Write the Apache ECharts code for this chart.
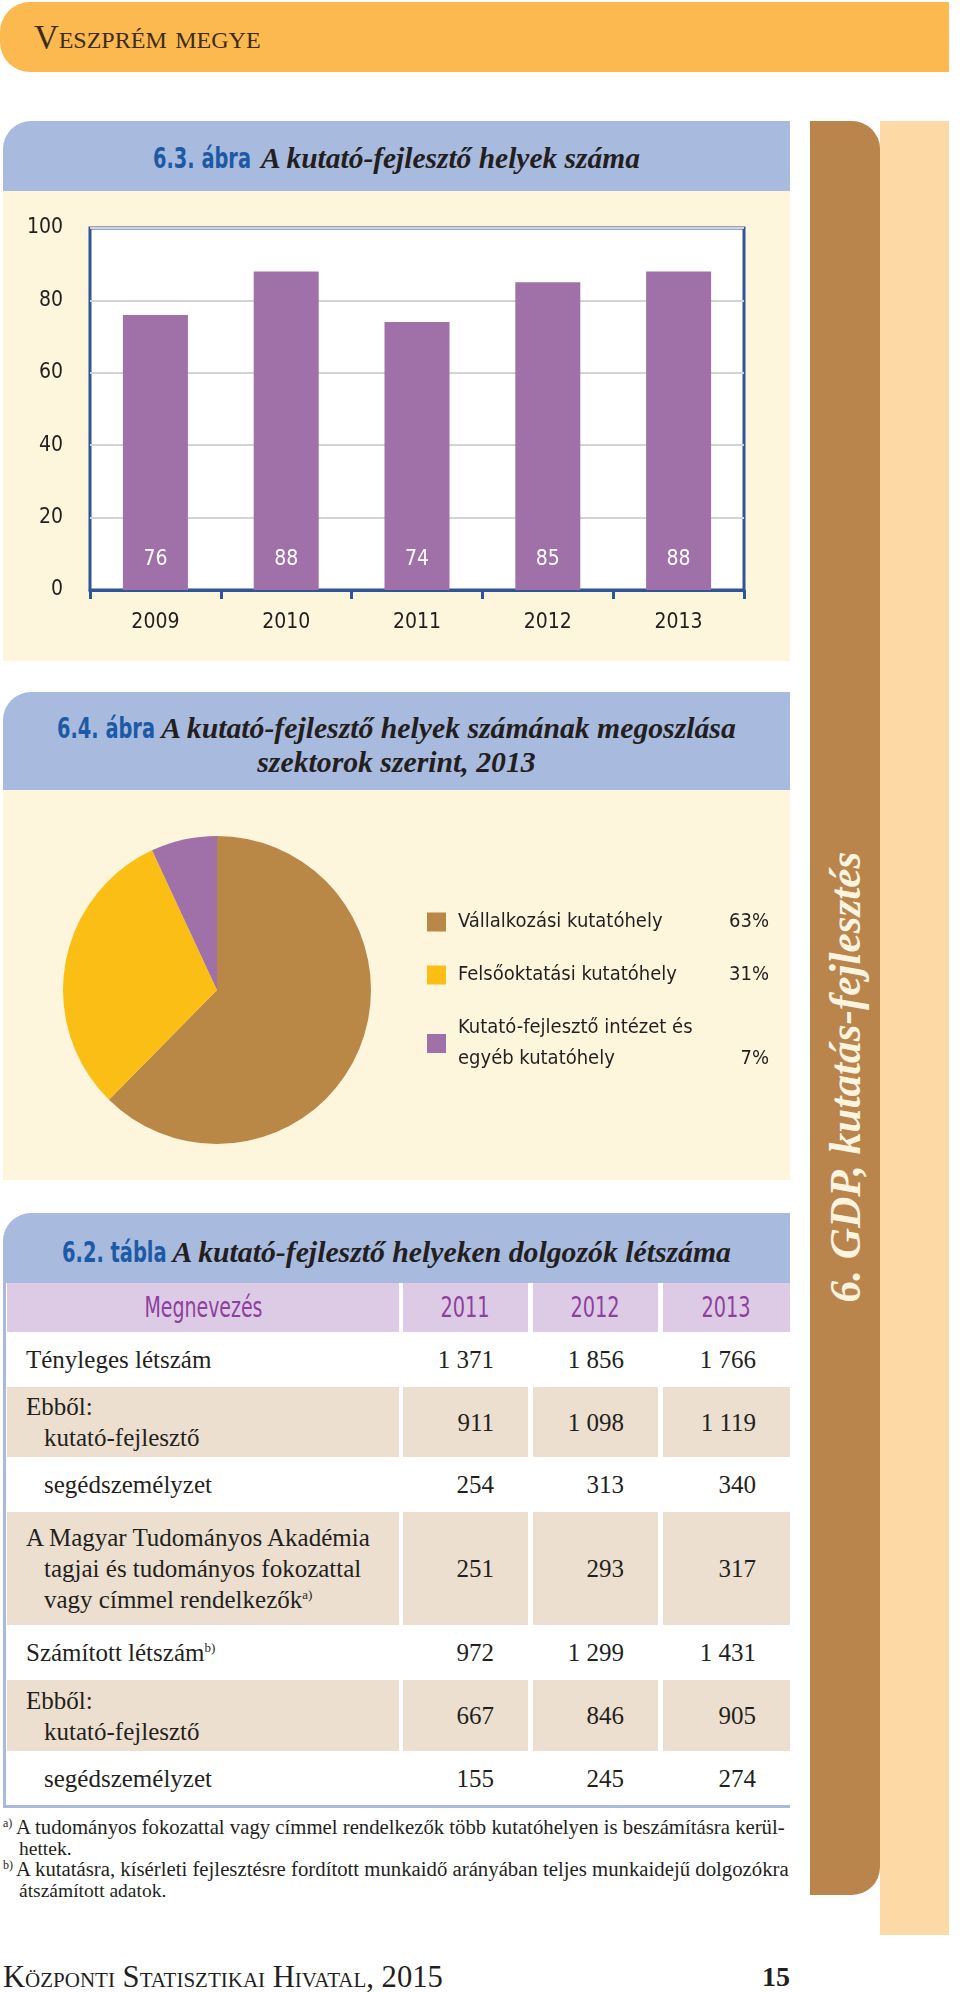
<!DOCTYPE html>
<html><head><meta charset="utf-8">
<script src="https://cdn.jsdelivr.net/npm/echarts@6/dist/echarts.min.js"></script>
<style>
html,body{margin:0;padding:0;background:#fff;}
#page{position:relative;width:960px;height:1992px;overflow:hidden;}
.abs{position:absolute;}
.serif{font-family:'Liberation Serif','DejaVu Serif',serif;}
.nw{white-space:nowrap;display:inline-block;}
.lab{color:#1c5aa6;font-weight:bold;font-family:'DejaVu Sans Condensed','DejaVu Sans',sans-serif;white-space:nowrap;display:inline-block;transform-origin:0 50%;}
.tt{font-family:'Liberation Serif','DejaVu Serif',serif;font-style:italic;font-weight:bold;color:#231f20;}
.titleLine{position:absolute;left:3px;width:787px;text-align:center;height:40px;line-height:40px;z-index:2;white-space:nowrap;}
#chart{position:absolute;left:0;top:0;width:960px;height:1992px;z-index:5;pointer-events:none;}
.cell{position:absolute;box-sizing:border-box;}
.txt{position:absolute;color:#231f20;font-size:25px;line-height:31px;white-space:nowrap;}
.hd{position:absolute;top:1283px;height:49px;line-height:49px;text-align:center;z-index:2;color:#8e3f9f;font-family:'DejaVu Sans Condensed','DejaVu Sans',sans-serif;font-size:28px;}
.hd span{display:inline-block;white-space:nowrap;transform-origin:50% 50%;}
</style></head>
<body><div id="page">
<!-- header -->
<div class="abs" style="left:0;top:2px;width:949px;height:70px;background:#fbb950;border-radius:30px 0 0 30px;"></div>
<div class="abs serif" style="left:34px;top:17px;height:40px;line-height:40px;color:#3b2c1e;font-variant:small-caps;font-size:29px;z-index:2;"><span id="hdrTxt" class="nw">Veszprém megye</span></div>
<!-- sidebar -->
<div class="abs" style="left:880px;top:121px;width:69px;height:1814px;background:#fdd9a5;"></div>
<div class="abs" style="left:810px;top:121px;width:70px;height:1774px;background:#b9854c;border-radius:0 28px 28px 0;"></div>
<div class="abs" style="left:845px;top:1077px;width:0;height:0;z-index:2;">
  <div id="sideTxt" class="tt" style="position:absolute;white-space:nowrap;color:#fdf4e0;font-size:42px;line-height:50px;transform:translate(-50%,-50%) rotate(-90deg);left:0;top:0;">6. GDP, kutatás-fejlesztés</div>
</div>
<!-- panel 1 -->
<div class="abs" style="left:3px;top:121px;width:787px;height:70px;background:#a9badf;border-radius:28px 0 0 0;"></div>
<div class="abs" style="left:3px;top:191px;width:787px;height:470px;background:#fdf5dc;"></div>
<div class="titleLine" style="top:138px;font-size:29px;"><span id="l1" class="lab">6.3. ábra</span><span style="display:inline-block;width:10px;"></span><span id="s1" class="tt nw">A kutató-fejlesztő helyek száma</span></div>
<!-- panel 2 -->
<div class="abs" style="left:3px;top:692px;width:787px;height:98px;background:#a9badf;border-radius:28px 0 0 0;"></div>
<div class="abs" style="left:3px;top:790px;width:787px;height:390px;background:#fdf5dc;"></div>
<div class="titleLine" style="top:708px;font-size:29px;"><span id="l2" class="lab">6.4. ábra</span><span style="display:inline-block;width:6px;"></span><span id="s2" class="tt nw">A kutató-fejlesztő helyek számának megoszlása</span></div>
<div class="titleLine" style="top:742px;font-size:29px;"><span id="s2b" class="nw tt">szektorok szerint, 2013</span></div>
<!-- panel 3 -->
<div class="abs" style="left:3px;top:1213px;width:787px;height:70px;background:#a9badf;border-radius:28px 0 0 0;"></div>
<div class="titleLine" style="top:1232px;font-size:29px;"><span id="l3" class="lab">6.2. tábla</span><span style="display:inline-block;width:6px;"></span><span id="s3" class="tt nw">A kutató-fejlesztő helyeken dolgozók létszáma</span></div>
<div id="table"></div>
<div class="abs" style="left:3px;top:1283px;width:3px;height:525px;background:#a9badf;"></div>
<div class="abs" style="left:3px;top:1805px;width:787px;height:3px;background:#a9badf;"></div>
<!-- footnotes -->
<div class="abs serif" style="left:3px;top:1817px;width:800px;color:#231f20;font-size:19.5px;line-height:20.5px;z-index:2;">
  <div style="position:relative;padding-left:13px;"><span style="position:absolute;left:0;top:-4px;font-size:12px;">a)</span><span id="fn1" class="nw">A tudományos fokozattal vagy címmel rendelkezők több kutatóhelyen is beszámításra kerül-</span><br><span style="padding-left:3px;">hettek.</span></div>
  <div style="position:relative;padding-left:13px;"><span style="position:absolute;left:0;top:-4px;font-size:12px;">b)</span><span id="fn2" class="nw">A kutatásra, kísérleti fejlesztésre fordított munkaidő arányában teljes munkaidejű dolgozókra</span><br><span style="padding-left:3px;">átszámított adatok.</span></div>
</div>
<!-- footer -->
<div class="abs serif" style="left:3px;top:1960px;height:34px;line-height:34px;color:#231f20;font-size:27px;font-variant:small-caps;"><span id="foot" class="nw">Központi Statisztikai Hivatal, 2015</span></div>
<div class="abs serif" style="left:690px;width:100px;text-align:right;top:1960px;height:34px;line-height:34px;color:#231f20;font-size:28px;font-weight:bold;">15</div>
<div id="chart"></div>
</div>
<script>
// ---------- data ----------
const barYears = ['2009', '2010', '2011', '2012', '2013'];
const barValues = [76, 88, 74, 85, 88];

const pieNames = ['Vállalkozási kutatóhely', 'Felsőoktatási kutatóhely', 'Kutató-fejlesztő intézet és\negyéb kutatóhely'];
const pieValues = [63, 31, 7];

const tableHeader = ['Megnevezés', '2011', '2012', '2013'];
const rowLabels = [
  'Tényleges létszám',
  'Ebből:\nkutató-fejlesztő',
  'segédszemélyzet',
  'A Magyar Tudományos Akadémia\ntagjai és tudományos fokozattal\nvagy címmel rendelkezők',
  'Számított létszám',
  'Ebből:\nkutató-fejlesztő',
  'segédszemélyzet'
];
const rowNotes = ['', '', '', 'a)', 'b)', '', ''];
const values2011 = [1371, 911, 254, 251, 972, 667, 155];
const values2012 = [1856, 1098, 313, 293, 1299, 846, 245];
const values2013 = [1766, 1119, 340, 317, 1431, 905, 274];

// ---------- styles ----------
const COND = "'DejaVu Sans Condensed','DejaVu Sans',sans-serif";
const INK = '#231f20';
const pieColors = ['#b98846', '#fbbe15', '#a070a9'];

// ---------- text fitting ----------
function fit(el, w) {
  if (typeof el === 'string') el = document.getElementById(el);
  const cur = el.offsetWidth;
  const fs = parseFloat(getComputedStyle(el).fontSize);
  el.style.fontSize = (fs * w / cur) + 'px';
}
function fitX(el, w, origin) {
  if (typeof el === 'string') el = document.getElementById(el);
  const cur = el.offsetWidth;
  el.style.transform = 'scaleX(' + (w / cur) + ')';
  if (origin !== 'center') el.style.marginRight = (w - cur) + 'px';
}
fit('hdrTxt', 223);
fitX('l1', 98); fit('s1', 379);
fitX('l2', 98); fit('s2', 575);
fit('s2b', 279);
fitX('l3', 105); fit('s3', 559);
fit('fn1', 769);
fit('fn2', 774);
fit('foot', 447);
fit('sideTxt', 451);

// ---------- table ----------
(function () {
  const tbl = document.getElementById('table');
  const cols = [[7, 399], [403, 528], [533, 658], [663, 790]];
  const rowTop = [1332, 1387, 1457, 1512, 1625, 1680, 1751];
  const rowH = [55, 70, 55, 113, 55, 71, 54];
  const indentAll = [false, false, true, false, false, false, true];
  const hdrW = [118, 49, 49, 49];
  const fmt = v => String(v).replace(/\B(?=(\d{3})+(?!\d))/g, '\u00a0');
  const vals = [values2011, values2012, values2013];
  function add(html, style, cls) {
    const d = document.createElement('div');
    d.className = cls || 'cell';
    d.style.cssText = style;
    d.innerHTML = html;
    tbl.appendChild(d);
    return d;
  }
  cols.forEach((c, i) => {
    add('', `left:${c[0]}px;top:1283px;width:${c[1] - c[0]}px;height:49px;background:#ddcbe5;`);
    const h = add('<span>' + tableHeader[i] + '</span>', `left:${c[0]}px;width:${c[1] - c[0]}px;`, 'hd');
    fitX(h.firstChild, hdrW[i], 'center');
  });
  rowLabels.forEach((lab, r) => {
    const beige = r % 2 === 1;
    if (beige) cols.forEach(c => add('', `left:${c[0]}px;top:${rowTop[r]}px;width:${c[1] - c[0]}px;height:${rowH[r]}px;background:#ecdfcf;`));
    const lines = lab.split('\n');
    const html = lines.map((l, i) => {
      const ind = (indentAll[r] || i > 0) ? 18 : 0;
      let s = `<div style="padding-left:${ind}px">${l}`;
      if (i === lines.length - 1 && rowNotes[r]) s += `<sup style="font-size:13px;line-height:0;">${rowNotes[r]}</sup>`;
      return s + '</div>';
    }).join('');
    const h = lines.length * 31;
    add(html, `left:26px;top:${rowTop[r] + (rowH[r] - h) / 2}px;z-index:2;font-family:'Liberation Serif',serif;`, 'txt');
    vals.forEach((arr, k) => {
      const c = cols[k + 1];
      add(fmt(arr[r]), `left:${c[0]}px;width:${c[1] - c[0] - 34}px;text-align:right;top:${rowTop[r] + (rowH[r] - 31) / 2}px;z-index:2;font-family:'Liberation Serif',serif;`, 'txt');
    });
  });
})();

// ---------- chart ----------
const chart = echarts.init(document.getElementById('chart'), null, { renderer: 'canvas' });
const pieData = pieNames.map((n, i) => ({ name: n, value: pieValues[i], itemStyle: { color: pieColors[i] } }));
chart.setOption({
  animation: false,
  backgroundColor: 'transparent',
  grid: { left: 90, top: 228, width: 654, height: 362, show: true, backgroundColor: '#ffffff', borderColor: '#2e5597', borderWidth: 3 },
  xAxis: {
    type: 'category', data: barYears,
    axisLine: { lineStyle: { color: '#2e5597', width: 3 } },
    axisTick: { show: true, length: 9, lineStyle: { color: '#2e5597', width: 3 } },
    axisLabel: { margin: 22, fontSize: 21, color: INK, fontFamily: COND }
  },
  yAxis: {
    type: 'value', min: 0, max: 100, interval: 20,
    axisLine: { show: false }, axisTick: { show: false },
    axisLabel: { margin: 27, fontSize: 21, color: INK, fontFamily: COND },
    splitLine: { lineStyle: { color: '#d3d3d3', width: 2 } }
  },
  legend: {
    data: pieNames, orient: 'vertical', left: 422, top: 907,
    itemWidth: 19, itemHeight: 19, itemGap: 33, icon: 'rect', selectedMode: false,
    formatter: function (name) {
      const i = pieNames.indexOf(name);
      const lines = name.split('\n');
      return lines.map((l, k) => '{n|' + l + '}' + (k === lines.length - 1 ? '{p|' + pieValues[i] + '%}' : '')).join('\n');
    },
    textStyle: {
      rich: {
        n: { fontSize: 20, fontFamily: COND, color: INK, width: 255, padding: [0, 0, 0, 7], lineHeight: 31 },
        p: { fontSize: 20, fontFamily: COND, color: INK, width: 56, align: 'right', lineHeight: 31 }
      }
    }
  },
  series: [
    {
      type: 'bar', data: barValues, barWidth: 65,
      itemStyle: { color: '#a070a9' },
      label: { show: true, position: 'insideBottom', distance: 20, color: '#ffffff', fontSize: 21, fontFamily: COND }
    },
    {
      type: 'pie', center: [217, 990], radius: 154, startAngle: 90, clockwise: true,
      label: { show: false }, labelLine: { show: false }, emphasis: { disabled: true },
      data: pieData
    }
  ]
});
</script>
</body></html>
